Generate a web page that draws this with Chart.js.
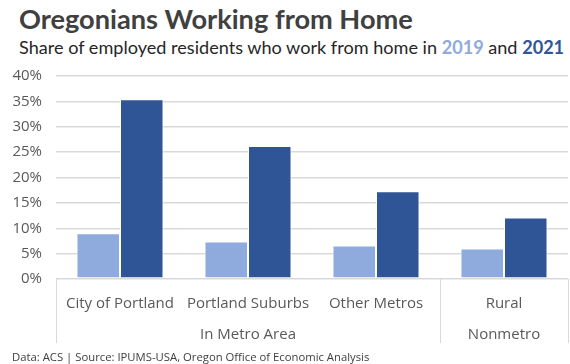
<!DOCTYPE html>
<html>
<head>
<meta charset="utf-8">
<script src="https://cdn.jsdelivr.net/npm/chart.js@4/dist/chart.umd.min.js"></script>
<style>
  body { margin: 0; background: #fff; font-family: "Open Sans", sans-serif; }
  #wrap { position: relative; width: 570px; height: 364px; overflow: hidden; }
  #title { position: absolute; left: 19px; top: 2px; font-family: Lato, sans-serif; font-size: 27.2px; font-weight: 700; color: #404040; white-space: nowrap; }
  #subtitle { position: absolute; left: 19px; top: 36px; font-family: Lato, sans-serif; font-size: 18.1px; color: #262626; white-space: nowrap; }
  #subtitle .y19 { color: #8faadc; font-weight: 700; }
  #subtitle .y21 { color: #2f5597; font-weight: 700; }
  #box { position: absolute; left: 0; top: 53px; width: 570px; height: 299px; }
  #source { position: absolute; left: 12px; top: 349px; font-size: 11.3px; color: #404040; white-space: nowrap; }
</style>
</head>
<body>
<div id="wrap">
  <div id="title">Oregonians Working from Home</div>
  <div id="subtitle">Share of employed residents who work from home in <span class="y19">2019</span> and <span class="y21">2021</span></div>
  <div id="box"><canvas id="chart"></canvas></div>
  <div id="source">Data: ACS | Source: IPUMS-USA, Oregon Office of Economic Analysis</div>
</div>
<script>
const categories = ['City of Portland', 'Portland Suburbs', 'Other Metros', 'Rural'];
const groups = [
  { label: 'In Metro Area', from: 0, to: 2 },
  { label: 'Nonmetro', from: 3, to: 3 }
];
const share2019 = [9.0, 7.4, 6.6, 6.0];
const share2021 = [35.4, 26.2, 17.3, 12.1];
const yTicks = [0, 5, 10, 15, 20, 25, 30, 35, 40];

// second label row and the box lines under the category axis
const groupAxis = {
  id: 'groupAxis',
  afterDraw(chart) {
    const ctx = chart.ctx;
    const x = chart.scales.x;
    const area = chart.chartArea;
    const half = (x.getPixelForValue(1) - x.getPixelForValue(0)) / 2;
    ctx.save();
    ctx.strokeStyle = '#d9d9d9';
    ctx.lineWidth = 1;
    const edges = [area.left];
    groups.forEach(g => edges.push(x.getPixelForValue(g.to) + half));
    edges.forEach(px => {
      const p = Math.round(px) + 0.5;
      ctx.beginPath();
      ctx.moveTo(p, area.bottom);
      ctx.lineTo(p, area.bottom + 64);
      ctx.stroke();
    });
    ctx.fillStyle = '#595959';
    ctx.font = '15px "Open Sans"';
    ctx.textAlign = 'center';
    ctx.textBaseline = 'middle';
    groups.forEach(g => {
      const mid = (x.getPixelForValue(g.from) + x.getPixelForValue(g.to)) / 2;
      ctx.fillText(g.label, mid, area.bottom + 56);
    });
    ctx.restore();
  }
};

new Chart(document.getElementById('chart'), {
  type: 'bar',
  data: {
    labels: categories,
    datasets: [
      {
        label: '2019',
        data: share2019,
        backgroundColor: '#8faadc',
        borderColor: '#ffffff',
        borderWidth: 1,
        borderSkipped: false,
        barPercentage: 1,
        categoryPercentage: 0.68
      },
      {
        label: '2021',
        data: share2021,
        backgroundColor: '#2f5597',
        borderColor: '#ffffff',
        borderWidth: 1,
        borderSkipped: false,
        barPercentage: 1,
        categoryPercentage: 0.68
      }
    ]
  },
  options: {
    responsive: true,
    maintainAspectRatio: false,
    animation: false,
    layout: { padding: { top: 3, right: 2, left: 0, bottom: 0 } },
    plugins: {
      legend: { display: false },
      tooltip: { enabled: false }
    },
    scales: {
      x: {
        grid: { display: false },
        border: { display: false },
        ticks: {
          color: '#595959',
          font: { family: 'Open Sans', size: 15 },
          padding: 8,
          maxRotation: 0
        },
        afterFit(scale) { scale.height = 73; }
      },
      y: {
        min: 0,
        max: 40,
        afterBuildTicks(scale) { scale.ticks = yTicks.map(v => ({ value: v })); },
        grid: { color: '#d9d9d9', lineWidth: 1.5, drawTicks: false },
        border: { display: false },
        ticks: {
          color: '#595959',
          font: { family: 'Open Sans', size: 15 },
          padding: 14,
          callback: v => v + '%'
        },
        afterFit(scale) { scale.width = 56; }
      }
    }
  },
  plugins: [groupAxis]
});
</script>
</body>
</html>
